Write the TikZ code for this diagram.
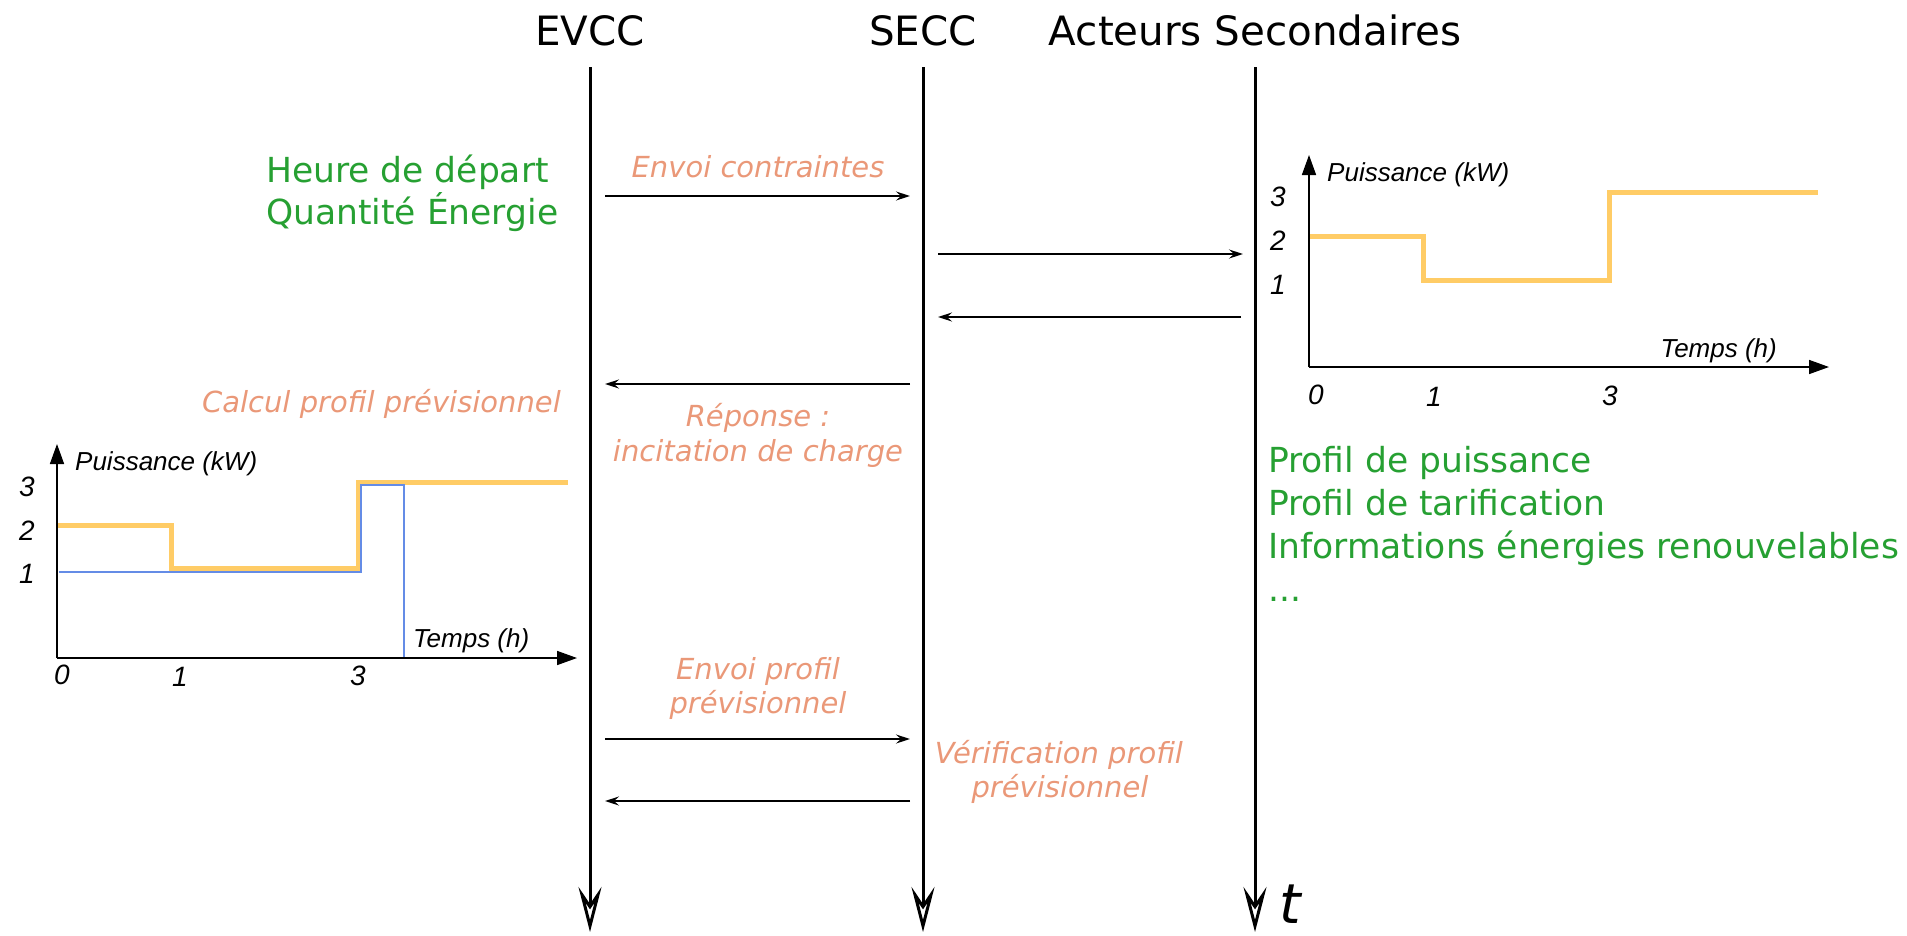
\documentclass[tikz,border=0pt]{standalone}
\usepackage{fontspec}
\setmainfont{DejaVu Sans}
\newfontfamily\arialfont{Liberation Sans}
\usetikzlibrary{arrows.meta}
\definecolor{grn}{RGB}{38,160,50}
\definecolor{salm}{RGB}{234,152,120}
\definecolor{org}{RGB}{255,204,102}
\definecolor{blu}{RGB}{100,140,230}
\tikzset{
  titlelbl/.style={font=\fontsize{40.4}{48}\selectfont, anchor=base, inner sep=0pt},
  greenlbl/.style={font=\fontsize{34.5}{41}\selectfont, text=grn, anchor=base west, inner sep=0pt},
  salmlbl/.style={font=\fontsize{29}{35}\selectfont\itshape, text=salm, anchor=base, inner sep=0pt},
  lifeline/.style={line width=3pt, -{Stealth[open, length=45pt, width=23pt, inset=17pt]}},
  msg/.style={line width=1.8pt, -{Stealth[open, length=14pt, width=9pt, inset=5pt]}},
  axisline/.style={line width=1.6pt, -{Triangle[length=20pt, width=14pt]}},
  ticklbl/.style={font=\arialfont\fontsize{28}{32}\selectfont\itshape, inner sep=0pt},
  axislbl/.style={font=\arialfont\fontsize{26}{30}\selectfont\itshape, inner sep=0pt},
  orangeprof/.style={draw=org, line width=5pt},
  blueprof/.style={draw=blu, line width=2.5pt},
}
\begin{document}
\begin{tikzpicture}[x=1pt, y=-1pt]
\useasboundingbox (0,0) rectangle (1907,935);
% titles
\node[titlelbl] (evcc) at (590,45) {EVCC};
\node[titlelbl] (secc) at (923,45) {SECC};
\node[titlelbl] (act) at (1255,45) {Acteurs Secondaires};
% lifelines
\coordinate (evtop) at (590,67);  \coordinate (evbot) at (590,932);
\coordinate (setop) at (923,67);  \coordinate (sebot) at (923,932);
\coordinate (actop) at (1255,67); \coordinate (acbot) at (1255,932);
\draw[lifeline] (evtop) -- (evbot);
\draw[lifeline] (setop) -- (sebot);
\draw[lifeline] (actop) -- (acbot);
\node[font=\fontsize{55}{60}\selectfont\itshape, anchor=base, inner sep=0pt] (tlbl) at (1290,923) {t};
% messages
\coordinate (m1a) at (605,196);  \coordinate (m1b) at (910,196);
\coordinate (m2a) at (938,254);  \coordinate (m2b) at (1243,254);
\coordinate (m3a) at (1241,317); \coordinate (m3b) at (938,317);
\coordinate (m4a) at (910,384);  \coordinate (m4b) at (605,384);
\coordinate (m5a) at (605,739);  \coordinate (m5b) at (910,739);
\coordinate (m6a) at (910,801);  \coordinate (m6b) at (605,801);
\draw[msg] (m1a) -- (m1b);
\draw[msg] (m2a) -- (m2b);
\draw[msg] (m3a) -- (m3b);
\draw[msg] (m4a) -- (m4b);
\draw[msg] (m5a) -- (m5b);
\draw[msg] (m6a) -- (m6b);
% salmon labels
\node[salmlbl] (envc) at (758,177) {Envoi contraintes};
\node[salmlbl] (rep1) at (758,426) {Réponse :};
\node[salmlbl] (rep2) at (758,461) {incitation de charge};
\node[salmlbl, anchor=base east] (calc) at (561,412) {Calcul profil prévisionnel};
\node[salmlbl] (envp1) at (758,679) {Envoi profil};
\node[salmlbl] (envp2) at (758,713) {prévisionnel};
\node[salmlbl] (verif1) at (1059,763) {Vérification profil};
\node[salmlbl] (verif2) at (1060,797) {prévisionnel};
% green labels
\node[greenlbl] (hd) at (266,182) {Heure de départ};
\node[greenlbl] (qe) at (266,224) {Quantité Énergie};
\node[greenlbl] (pp) at (1268,472) {Profil de puissance};
\node[greenlbl] (pt) at (1268,515) {Profil de tarification};
\node[greenlbl] (ie) at (1268,558) {Informations énergies renouvelables};
\node[greenlbl] (etc) at (1268,601) {...};
% left chart
\coordinate (lo) at (57,658);
\coordinate (ly) at (57,444);
\coordinate (lx) at (577,658);
\draw[orangeprof] (57,525) -- (171,525) -- (171,568) -- (358,568) -- (358,482) -- (568,482);
\draw[blueprof] (59,572) -- (361,572) -- (361,485) -- (404,485) -- (404,658);
\draw[axisline] (lo) -- (ly);
\draw[axisline] (lo) -- (lx);
\node[ticklbl] (ly3) at (27,487) {3};
\node[ticklbl] (ly2) at (27,531) {2};
\node[ticklbl] (ly1) at (27,574) {1};
\node[ticklbl] (lx0) at (62,675) {0};
\node[ticklbl] (lx1) at (180,677) {1};
\node[ticklbl] (lx3) at (358,676) {3};
\node[axislbl, anchor=west] (lyl) at (75,464) {Puissance (kW)};
\node[axislbl, anchor=west] (lxl) at (413,641) {Temps (h)};
% right chart
\coordinate (ro) at (1309,367);
\coordinate (ry) at (1309,155);
\coordinate (rx) at (1829,367);
\draw[orangeprof] (1309,236) -- (1423,236) -- (1423,280) -- (1609,280) -- (1609,192) -- (1818,192);
\draw[axisline] (ro) -- (ry);
\draw[axisline] (ro) -- (rx);
\node[ticklbl] (ry3) at (1278,197) {3};
\node[ticklbl] (ry2) at (1278,241) {2};
\node[ticklbl] (ry1) at (1278,285) {1};
\node[ticklbl] (rx0) at (1316,395) {0};
\node[ticklbl] (rx1) at (1434,397) {1};
\node[ticklbl] (rx3) at (1610,396) {3};
\node[axislbl, anchor=west] (ryl) at (1327,175) {Puissance (kW)};
\node[axislbl, anchor=east] (rxl) at (1777,351) {Temps (h)};
\end{tikzpicture}
\end{document}
